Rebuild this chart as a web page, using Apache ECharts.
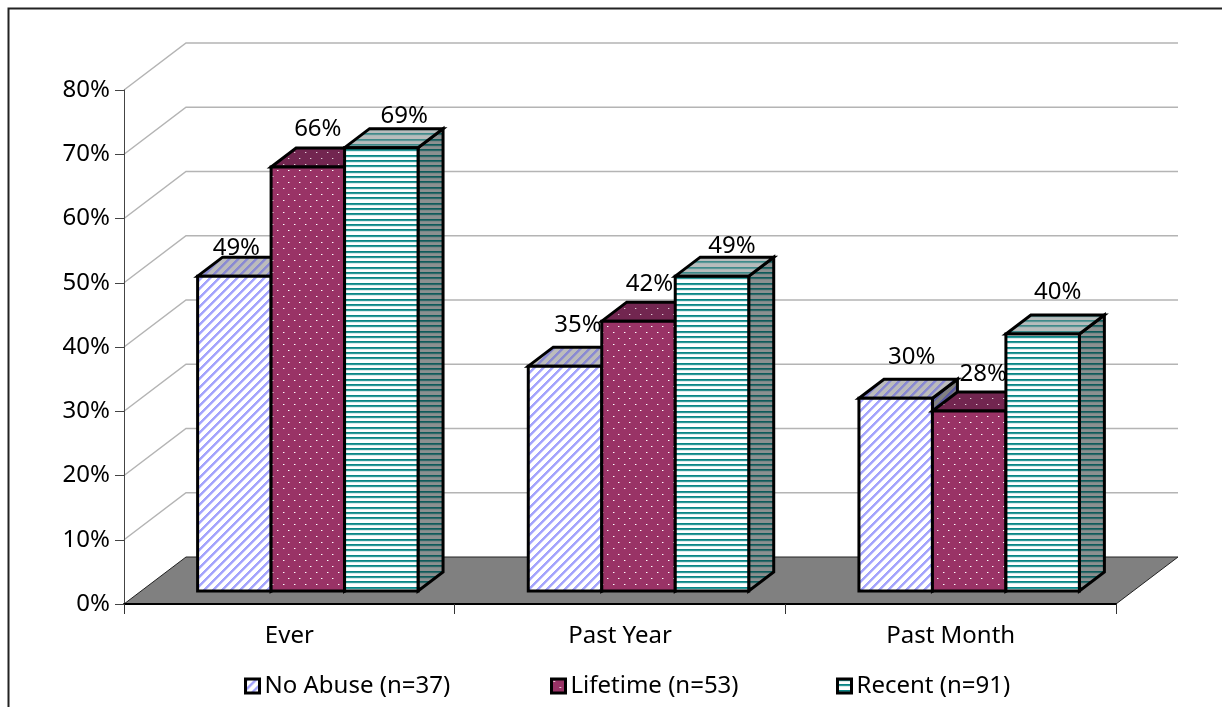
<!DOCTYPE html>
<html>
<head>
<meta charset="utf-8">
<style>html,body{margin:0;padding:0;background:#fff}#chart{width:1222px;height:707px}</style>
<script src="https://cdn.jsdelivr.net/npm/echarts@6/dist/echarts.min.js"></script>
</head>
<body>
<div id="chart"></div>
<script>
// Survey percentages by abuse history and time frame
const categories = ['Ever', 'Past Year', 'Past Month'];
const noAbuse = [49, 35, 30];
const lifetime = [66, 42, 28];
const recent = [69, 49, 40];
const seriesNames = ['No Abuse (n=37)', 'Lifetime (n=53)', 'Recent (n=91)'];
const wallTicks = [10, 20, 30, 40, 50, 60, 70, 80];

const FONT = '"Noto Sans", "DejaVu Sans", sans-serif';
const FONT_SIZE = 24;

// Oblique projection used for the floor, walls and columns (pixels)
const WALL_DEPTH = [62, -47];
const BAR_NEAR = [18.5, -13];
const BAR_DEPTH = [25, -19];

// Offsets of each value label from the centre of its column's front top edge
const labelShift = [
  [[2, -28], [10, -38], [23, -32]],
  [[13, -41], [11, -37], [20, -30]],
  [[16, -41], [14, -37], [15, -42]]
];

// Repeating fill tiles, painted pixel by pixel
function tile(w, h, paint) {
  const c = document.createElement('canvas');
  c.width = w; c.height = h;
  const g = c.getContext('2d');
  paint(g, w, h);
  return { image: c, repeat: 'repeat' };
}
function diagonal(bg, fg, soft) {
  return tile(9, 9, (g, w, h) => {
    g.fillStyle = bg; g.fillRect(0, 0, w, h);
    for (let y = 0; y < h; y++) for (let x = 0; x < w; x++) {
      const k = (x + y) % 9;
      if (k < 3) { g.fillStyle = fg; g.fillRect(x, y, 1, 1); }
      else if (k === 3) { g.fillStyle = soft; g.fillRect(x, y, 1, 1); }
    }
  });
}
function dots(bg, fg, soft) {
  return tile(11, 12, (g, w, h) => {
    g.fillStyle = bg; g.fillRect(0, 0, w, h);
    g.fillStyle = soft;
    g.fillRect(3, 2, 1, 1);
    g.fillRect(9, 8, 1, 1);
    g.fillStyle = fg;
    g.fillRect(2, 2, 1, 1);
    g.fillRect(8, 8, 1, 1);
  });
}
function bands(bg, fg, mid, soft) {
  return tile(2, 16, (g, w, h) => {
    g.fillStyle = bg; g.fillRect(0, 0, w, h);
    [0, 5, 11].forEach((y) => {
      g.fillStyle = fg; g.fillRect(0, y, w, 1);
      g.fillStyle = mid; g.fillRect(0, y + 1, w, 1);
      g.fillStyle = soft; g.fillRect(0, y + 2, w, 1);
    });
  });
}

const faces = [
  { front: diagonal('#ffffff', '#a4a4fc', '#d4d4fe'), top: diagonal('#bcbcbc', '#8a8ad2', '#a4a4c6'), side: diagonal('#808080', '#5a5aa0', '#6c6c90') },
  { front: dots('#993366', '#ffffff', '#c78aa6'), top: dots('#722650', '#e0ccd6', '#96607c'), side: dots('#5c1e40', '#b8a4ae', '#7a4a64') },
  { front: bands('#ffffff', '#0a8585', '#2f9a9a', '#d8ecec'), top: bands('#b8bcbc', '#3f8a8a', '#5f9898', '#a8b8b8'), side: bands('#8c9090', '#0f5a5a', '#2f6868', '#7c8888') }
];

function renderBar(seriesIndex) {
  return function (params, api) {
    const cat = api.value(0);
    const origin = api.coord([cat, 0]);
    const peak = api.coord([cat, api.value(1)]);
    const band = api.size([1, 0])[0];
    const barW = band / 4.5;
    const x0 = origin[0] - 1.5 * barW + seriesIndex * barW + BAR_NEAR[0];
    const x1 = x0 + barW;
    const yBase = origin[1] + BAR_NEAR[1];
    const yTop = peak[1] + BAR_NEAR[1];
    const dx = BAR_DEPTH[0], dy = BAR_DEPTH[1];
    const edge = { stroke: '#000', lineWidth: 3, lineJoin: 'miter' };
    const f = faces[seriesIndex];
    const poly = (points, fill) => ({
      type: 'polygon', shape: { points }, style: Object.assign({ fill }, edge)
    });
    return {
      type: 'group',
      children: [
        poly([[x1, yTop], [x1 + dx, yTop + dy], [x1 + dx, yBase + dy], [x1, yBase]], f.side),
        poly([[x0, yTop], [x1, yTop], [x1 + dx, yTop + dy], [x0 + dx, yTop + dy]], f.top),
        poly([[x0, yTop], [x1, yTop], [x1, yBase], [x0, yBase]], f.front)
      ]
    };
  };
}

function barSeries(name, values, seriesIndex) {
  return {
    name,
    type: 'custom',
    coordinateSystem: 'cartesian2d',
    silent: true,
    z: 3,
    itemStyle: { color: faces[seriesIndex].front, borderColor: '#000', borderWidth: 3 },
    renderItem: renderBar(seriesIndex),
    encode: { x: 0, y: 1 },
    data: values.map((v, i) => [i, v])
  };
}

// Horizontal wall lines and the slanted lines running back from the value axis
const wallSeries = {
  type: 'custom',
  coordinateSystem: 'cartesian2d',
  silent: true,
  z: 1,
  renderItem(params, api) {
    const p = api.coord([0, api.value(0)]);
    const left = params.coordSys.x, right = left + params.coordSys.width;
    const y = p[1], bx = left + WALL_DEPTH[0], by = y + WALL_DEPTH[1];
    return {
      type: 'polyline',
      shape: { points: [[left, y], [bx, by], [right + WALL_DEPTH[0], by]] },
      style: { stroke: '#b4b4b4', lineWidth: 1.5, fill: null }
    };
  },
  encode: { y: 0 },
  data: wallTicks.map((v) => [v])
};

// Grey floor plane under the columns
const floorSeries = {
  type: 'custom',
  coordinateSystem: 'cartesian2d',
  silent: true,
  z: 2,
  renderItem(params) {
    const c = params.coordSys;
    const yf = c.y + c.height, xl = c.x, xr = c.x + c.width;
    const [dx, dy] = WALL_DEPTH;
    return {
      type: 'polygon',
      shape: { points: [[xl, yf], [xr, yf], [xr + dx, yf + dy], [xl + dx, yf + dy]] },
      style: { fill: '#808080', stroke: '#222', lineWidth: 1 }
    };
  },
  data: [[0]]
};

// Value labels, painted above every column
const labelSeries = {
  type: 'custom',
  coordinateSystem: 'cartesian2d',
  silent: true,
  z: 4,
  renderItem(params, api) {
    const cat = api.value(0), s = api.value(1), v = api.value(2);
    const origin = api.coord([cat, 0]);
    const peak = api.coord([cat, v]);
    const barW = api.size([1, 0])[0] / 4.5;
    const cx = origin[0] - barW + s * barW + BAR_NEAR[0];
    const cy = peak[1] + BAR_NEAR[1];
    const shift = labelShift[cat][s];
    return {
      type: 'text',
      style: {
        text: v + '%', x: cx + shift[0], y: cy + shift[1],
        align: 'center', verticalAlign: 'middle',
        fill: '#000', font: FONT_SIZE + 'px ' + FONT
      }
    };
  },
  encode: { x: 0, y: 2 },
  data: [noAbuse, lifetime, recent].flatMap((vals, s) => vals.map((v, c) => [c, s, v]))
};

const chart = echarts.init(document.getElementById('chart'), null, { renderer: 'canvas' });
const legendAt = [244, 550, 836];
chart.setOption({
  animation: false,
  backgroundColor: '#ffffff',
  textStyle: { fontFamily: FONT },
  grid: { left: 124, top: 90, width: 992, height: 514, containLabel: false },
  xAxis: {
    type: 'category',
    data: categories,
    boundaryGap: true,
    z: 5,
    axisLine: { lineStyle: { color: '#000', width: 2 } },
    axisTick: { show: true, alignWithLabel: false, length: 10, lineStyle: { color: '#333', width: 1 } },
    axisLabel: { color: '#000', fontSize: FONT_SIZE, fontFamily: FONT, margin: 20 },
    splitLine: { show: false }
  },
  yAxis: {
    type: 'value',
    min: 0,
    max: 80,
    interval: 10,
    z: 5,
    axisLine: { show: true, lineStyle: { color: '#444', width: 1 } },
    axisTick: { show: true, length: 9, lineStyle: { color: '#444', width: 1 } },
    axisLabel: { color: '#000', fontSize: FONT_SIZE, fontFamily: FONT, margin: 14, formatter: '{value}%' },
    splitLine: { show: false }
  },
  legend: seriesNames.map((name, i) => ({
    data: [name],
    left: legendAt[i],
    top: 674,
    padding: 0,
    icon: 'rect',
    itemWidth: 14,
    itemHeight: 14,
    selectedMode: false,
    itemStyle: { borderColor: '#000', borderWidth: 3 },
    textStyle: { color: '#000', fontSize: FONT_SIZE, fontFamily: FONT }
  })),
  graphic: [{
    type: 'polyline',
    silent: true,
    shape: { points: [[8.5, 707], [8.5, 8.5], [1222, 8.5]] },
    style: { stroke: '#222', lineWidth: 2, fill: null }
  }],
  series: [
    wallSeries,
    floorSeries,
    barSeries(seriesNames[0], noAbuse, 0),
    barSeries(seriesNames[1], lifetime, 1),
    barSeries(seriesNames[2], recent, 2),
    labelSeries
  ]
});
</script>
</body>
</html>
